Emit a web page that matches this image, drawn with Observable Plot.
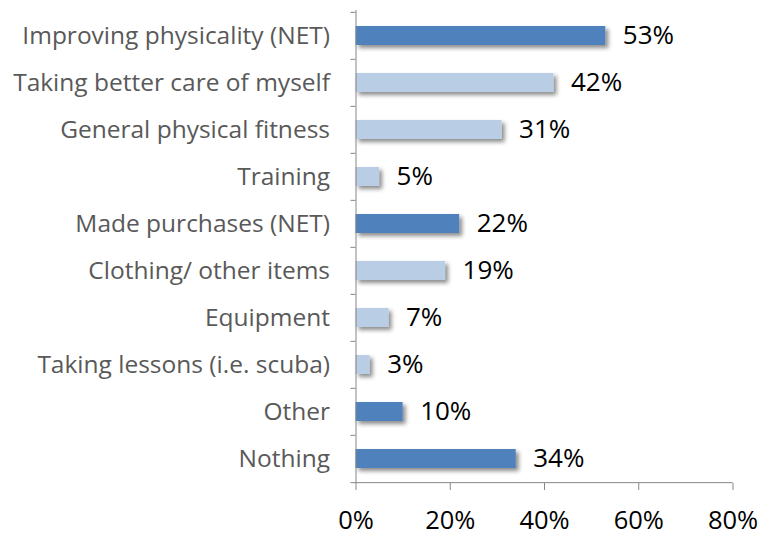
<!DOCTYPE html>
<html><head><meta charset="utf-8">
<script src="https://cdn.jsdelivr.net/npm/d3@7"></script>
<script src="https://cdn.jsdelivr.net/npm/@observablehq/plot@0.6"></script>
<style>body{margin:0;background:#fff}</style>
</head><body><div id="chart"></div>
<script>
const categories = [
  "Improving physicality (NET)",
  "Taking better care of myself",
  "General physical fitness",
  "Training",
  "Made purchases (NET)",
  "Clothing/ other items",
  "Equipment",
  "Taking lessons (i.e. scuba)",
  "Other",
  "Nothing"
];
const values = [53, 42, 31, 5, 22, 19, 7, 3, 10, 34];
const kinds = ["net", "sub", "sub", "sub", "net", "sub", "sub", "sub", "net", "net"];
const xTicks = [0, 20, 40, 60, 80];
const kindColors = ["#4F81BD", "#B9CDE5"];

const data = categories.map((c, i) => ({category: c, value: values[i], kind: kinds[i]}));
const marginTop = 10, marginBottom = 54, H = 537;
const step = (H - marginTop - marginBottom) / categories.length;
const axisColor = "#868686";

const chart = Plot.plot({
  width: 770, height: H,
  marginLeft: 355.5, marginRight: 37.5, marginTop, marginBottom,
  style: {fontFamily: "'Open Sans', sans-serif", background: "#fff", overflow: "visible"},
  x: {domain: [0, 80], label: null},
  y: {domain: categories, paddingInner: 0.6, paddingOuter: 0.3, label: null},
  color: {domain: ["net", "sub"], range: kindColors},
  marks: [
    Plot.barX(data, {y: "category", x: "value", fill: "kind"}),
    Plot.ruleX([0], {stroke: axisColor}),
    Plot.ruleY(categories, {y: d => d, x1: 0, x2: 0, insetLeft: -5, dy: -step / 2, stroke: axisColor}),
    Plot.ruleY(categories.slice(-1), {y: d => d, x1: 0, x2: 80, insetLeft: -5, dy: step / 2, stroke: axisColor}),
    Plot.text(data, {y: "category", x: "value", text: d => d.value + "%", textAnchor: "start", dx: 17, fontSize: 26, fill: "#000"}),
    Plot.axisY({tickSize: 0, tickPadding: 26, fontSize: 24.5, fill: "#595959", label: null}),
    Plot.axisX({ticks: xTicks, tickFormat: d => d + "%", tickSize: 7, tickPadding: 20, fontSize: 25.5, stroke: axisColor, fill: "#000", label: null})
  ]
});

// drop shadow on bars
const ns = "http://www.w3.org/2000/svg";
const defs = document.createElementNS(ns, "defs");
defs.innerHTML = '<filter id="barShadow" x="-10%" y="-50%" width="130%" height="250%"><feDropShadow dx="3" dy="3" stdDeviation="2" flood-color="#000" flood-opacity="0.45"/></filter>';
chart.insertBefore(defs, chart.firstChild);
const barG = chart.querySelector('g[aria-label="bar"]');
if (barG) barG.setAttribute("filter", "url(#barShadow)");

document.getElementById("chart").appendChild(chart);
</script>
</body></html>
